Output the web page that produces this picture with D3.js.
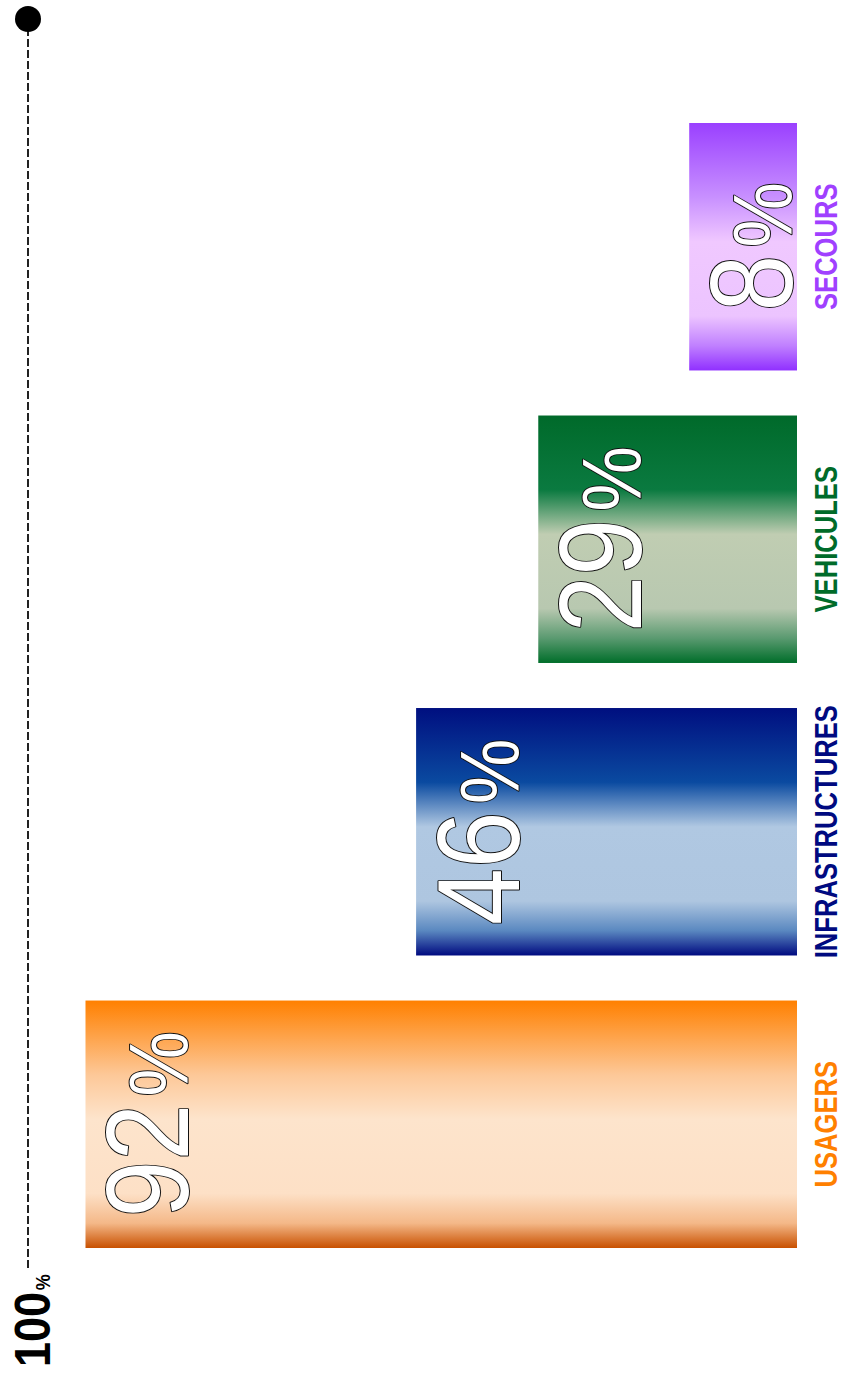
<!DOCTYPE html>
<html>
<head>
<meta charset="utf-8">
<script src="https://cdn.jsdelivr.net/npm/d3@7"></script>
<style>
  html, body { margin: 0; padding: 0; background: #fff; }
  svg { display: block; }
</style>
</head>
<body>
<svg id="chart" width="844" height="1382"></svg>
<script>
// data
const categories = ["USAGERS", "INFRASTRUCTURES", "VEHICULES", "SECOURS"];
const values = [92, 46, 29, 8];
const labelColors = ["#ff8000", "#000a80", "#006b2a", "#a040ff"];
// gradient colours across each bar (top of page -> bottom of page)
const gradientColors = [
  ["#ff8000", "#fdc898", "#fde4cc", "#fde0c6", "#f4b888", "#c85000"],
  ["#000f80", "#0a4aa0", "#b0c8e2", "#aec6e0", "#5a88c0", "#000a80"],
  ["#006a2a", "#0a7a40", "#c0cdb2", "#b8c8b0", "#5a9a70", "#006e2a"],
  ["#9a40ff", "#c890ff", "#f0c8ff", "#ecc4ff", "#c080ff", "#9030ff"]
];
const gradientOffsets = [0, 0.3, 0.48, 0.78, 0.9, 1];
const axisMax = 100;

const W = 844, H = 1382;
const svg = d3.select("#chart");

svg.append("rect").attr("width", W).attr("height", H).attr("fill", "#fff");

// the chart is drawn as a normal column chart, then turned a quarter left
const g = svg.append("g")
  .attr("transform", `translate(0,${H}) rotate(-90)`);

const x = d3.scaleBand()
  .domain(categories)
  .range([134, 1259])
  .paddingInner(0.154)
  .paddingOuter(0);

const y = d3.scaleLinear()
  .domain([-7, axisMax])
  .range([797, 28]);

// gradients
const defs = svg.append("defs");
categories.forEach((c, i) => {
  const grad = defs.append("linearGradient")
    .attr("id", "grad" + i)
    .attr("x1", 1).attr("y1", 0)
    .attr("x2", 0).attr("y2", 0);
  grad.selectAll("stop")
    .data(gradientColors[i])
    .enter()
    .append("stop")
    .attr("offset", (d, j) => gradientOffsets[j])
    .attr("stop-color", d => d);
});

// dashed 100% line
const y100 = y(axisMax);
g.append("line")
  .attr("x1", 114)
  .attr("x2", 1363)
  .attr("y1", y100)
  .attr("y2", y100)
  .attr("stroke", "#222")
  .attr("stroke-width", 2)
  .attr("stroke-dasharray", "8,3");

g.append("circle")
  .attr("cx", 1363)
  .attr("cy", y100)
  .attr("r", 13)
  .attr("fill", "#000");

const lab100 = g.append("text")
  .attr("transform", `translate(15,${y100 + 22}) scale(0.9,1)`)
  .attr("font-family", "Liberation Sans, Arial, sans-serif")
  .attr("font-weight", "bold")
  .attr("font-size", 50)
  .attr("fill", "#000");
lab100.append("tspan").text(axisMax);
lab100.append("tspan").attr("font-size", 20).attr("dx", 2).text("%");

// bars
const baseline = y.range()[0];
g.selectAll(".bar")
  .data(categories)
  .enter()
  .append("rect")
  .attr("class", "bar")
  .attr("x", d => x(d))
  .attr("y", (d, i) => y(values[i]))
  .attr("width", x.bandwidth())
  .attr("height", (d, i) => baseline - y(values[i]))
  .attr("fill", (d, i) => `url(#grad${i})`);

// value labels
const vl = g.selectAll(".value-label")
  .data(categories)
  .enter()
  .append("text")
  .attr("class", "value-label")
  .attr("transform", (d, i) => `translate(${x(d) + x.bandwidth() / 2},${y(values[i]) + 103}) scale(0.88,1)`)
  .attr("text-anchor", "middle")
  .attr("font-family", "Liberation Sans, Arial, sans-serif")
  .attr("font-size", 116)
  .attr("fill", "#fff")
  .attr("stroke", "#111")
  .attr("stroke-width", 2)
  .attr("paint-order", "stroke")
  .attr("stroke-linejoin", "round");
vl.append("tspan").text((d, i) => values[i]);
vl.append("tspan").attr("font-size", 84).attr("dx", 8).text("%");

// category labels
g.selectAll(".cat-label")
  .data(categories)
  .enter()
  .append("text")
  .attr("class", "cat-label")
  .attr("transform", d => `translate(${x(d) + x.bandwidth() / 2},837) scale(0.8,1)`)
  .attr("text-anchor", "middle")
  .attr("font-family", "Liberation Sans, Arial, sans-serif")
  .attr("font-weight", "bold")
  .attr("font-size", 32)
  .attr("fill", (d, i) => labelColors[i])
  .text(d => d);
</script>
</body>
</html>
